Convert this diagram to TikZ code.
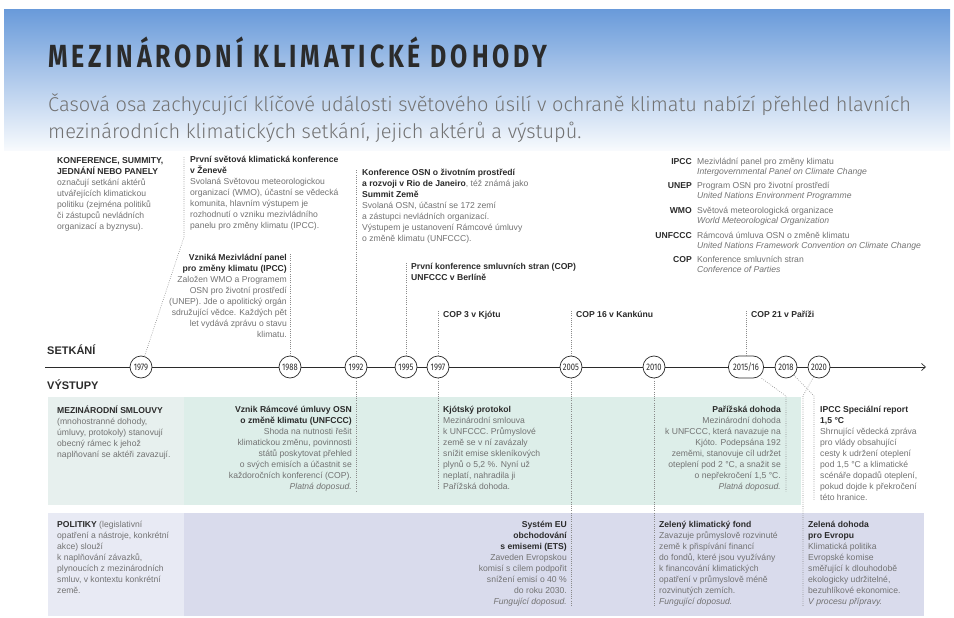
\documentclass[tikz,border=0pt]{standalone}
\usepackage{fontspec}
\setmainfont{Liberation Sans}
\newfontfamily\titlefont{Fira Sans}[FakeStretch=0.78,LetterSpace=12]
\newfontfamily\leadfont{Fira Sans Light}
\newfontfamily\yearfont{Fira Sans}[FakeStretch=0.8]
\usetikzlibrary{arrows.meta}

\definecolor{ink}{HTML}{2B2B2B}
\definecolor{grey}{HTML}{727272}
\definecolor{dots}{HTML}{8A8A8A}
\definecolor{skyblue}{HTML}{6A9BDA}
\definecolor{treatyL}{HTML}{E7F0EE}
\definecolor{treaty}{HTML}{DDEEE9}
\definecolor{policyL}{HTML}{E8EAF4}
\definecolor{policy}{HTML}{D9DBEC}

\newcommand\hd[1]{\textbf{\textcolor{ink}{#1}}}

\begin{document}
\begin{tikzpicture}[x=1pt,y=-1pt,
  txt/.style={inner sep=0pt, anchor=north west, align=left, text=grey, font=\fontsize{8.6}{11}\selectfont},
  txtr/.style={txt, anchor=north east, align=right},
  head/.style={inner sep=0pt, anchor=base west, text=ink, font=\bfseries\fontsize{11}{13}\selectfont},
  year/.style={circle, draw=ink, line width=0.7pt, fill=white, minimum size=22pt, inner sep=0pt, text=ink, font=\yearfont\fontsize{9.5}{10}\selectfont},
  yearwide/.style={year, rectangle, rounded corners=10.5pt, minimum width=35pt},
  link/.style={draw=dots, line width=0.6pt, dash pattern=on 0.7pt off 1.5pt},
  abbr/.style={inner sep=0pt, anchor=north east, text=ink, font=\bfseries\fontsize{8.6}{10}\selectfont},
  abbrtxt/.style={txt, font=\fontsize{8.6}{10}\selectfont}]
	\useasboundingbox (0,0) rectangle (954,618);
	\fill[white] (0,0) rectangle (954,618);
	\shade[top color=skyblue, bottom color=white!95!skyblue] (4,10) rectangle (950,150);
	% bands
	\fill[treatyL] (48,397) rectangle (184,505);
	\fill[treaty] (184,397) rectangle (801,505);
	\fill[policyL] (48,513) rectangle (184,616);
	\fill[policy] (184,513) rectangle (924,616);
	
	% heading
	\node[inner sep=0pt, anchor=base west, text=ink, font=\titlefont\bfseries\fontsize{32}{32}\selectfont] (title) at (48,68) {MEZINÁRODNÍ KLIMATICKÉ DOHODY};
	\node[inner sep=0pt, anchor=base west, text=grey, font=\leadfont\fontsize{20}{27}\selectfont] (lead1) at (48,112) {Časová osa zachycující klíčové události světového úsilí v ochraně klimatu nabízí přehled hlavních};
	\node[inner sep=0pt, anchor=base west, text=grey, font=\leadfont\fontsize{20}{27}\selectfont] (lead2) at (48,139) {mezinárodních klimatických setkání, jejich aktérů a výstupů.};
	
	% meetings
	\node[txt] (legend) at (57,157) {\hd{KONFERENCE, SUMMITY,}\\\hd{JEDNÁNÍ NEBO PANELY}\\označují setkání aktérů\\utvářejících klimatickou\\politiku (zejména politiků\\či zástupců nevládních\\organizací a byznysu).};
	\node[txt] (geneva) at (190,156) {\hd{První světová klimatická konference}\\\hd{v Ženevě}\\Svolaná Světovou meteorologickou\\organizací (WMO), účastní se vědecká\\komunita, hlavním výstupem je\\rozhodnutí o vzniku mezivládního\\panelu pro změny klimatu (IPCC).};
	\node[txtr] (ipcc) at (287,254) {\hd{Vzniká Mezivládní panel}\\\hd{pro změny klimatu (IPCC)}\\Založen WMO a Programem\\OSN pro životní prostředí\\(UNEP). Jde o apolitický orgán\\sdružující vědce. Každých pět\\let vydává zprávu o stavu\\klimatu.};
	\node[txt] (rio) at (362,169) {\hd{Konference OSN o životním prostředí}\\\hd{a rozvoji v Rio de Janeiro}, též známá jako\\\hd{Summit Země}\\Svolaná OSN, účastní se 172 zemí\\a zástupci nevládních organizací.\\Výstupem je ustanovení Rámcové úmluvy\\o změně klimatu (UNFCCC).};
	\node[txt] (berlin) at (411,263) {\hd{První konference smluvních stran (COP)}\\\hd{UNFCCC v Berlíně}};
	\node[txt] (kyotocop) at (443,311) {\hd{COP 3 v Kjótu}};
	\node[txt] (cancun) at (576,311) {\hd{COP 16 v Kankúnu}};
	\node[txt] (pariscop) at (751,311) {\hd{COP 21 v Paříži}};
	
	% abbreviations
	\node[abbr] (a1) at (692,158) {IPCC};
	\node[abbrtxt] (b1) at (697,158) {Mezivládní panel pro změny klimatu\\\textit{Intergovernmental Panel on Climate Change}};
	\node[abbr] (a2) at (692,182) {UNEP};
	\node[abbrtxt] (b2) at (697,182) {Program OSN pro životní prostředí\\\textit{United Nations Environment Programme}};
	\node[abbr] (a3) at (692,207) {WMO};
	\node[abbrtxt] (b3) at (697,207) {Světová meteorologická organizace\\\textit{World Meteorological Organization}};
	\node[abbr] (a4) at (692,232) {UNFCCC};
	\node[abbrtxt] (b4) at (697,232) {Rámcová úmluva OSN o změně klimatu\\\textit{United Nations Framework Convention on Climate Change}};
	\node[abbr] (a5) at (692,256) {COP};
	\node[abbrtxt] (b5) at (697,256) {Konference smluvních stran\\\textit{Conference of Parties}};
	
	% outputs
	\node[txt] (treaties) at (57,406) {\hd{MEZINÁRODNÍ SMLOUVY}\\(mnohostranné dohody,\\úmluvy, protokoly) stanovují\\obecný rámec k jehož\\naplňovaní se aktéři zavazují.};
	\node[txtr] (unfccc) at (352,406) {\hd{Vznik Rámcové úmluvy OSN}\\\hd{o změně klimatu (UNFCCC)}\\Shoda na nutnosti řešit\\klimatickou změnu, povinnosti\\států poskytovat přehled\\o svých emisích a účastnit se\\každoročních konferencí (COP).\\\textit{Platná doposud.}};
	\node[txt] (kyoto) at (443,406) {\hd{Kjótský protokol}\\Mezinárodní smlouva\\k UNFCCC. Průmyslové\\země se v ní zavázaly\\snížit emise skleníkových\\plynů o 5,2 \%. Nyní už\\neplatí, nahradila ji\\Pařížská dohoda.};
	\node[txtr] (paris) at (781,406) {\hd{Pařížská dohoda}\\Mezinárodní dohoda\\k UNFCCC, která navazuje na\\Kjóto. Podepsána 192\\zeměmi, stanovuje cíl udržet\\oteplení pod 2 °C, a snažit se\\o nepřekročení 1,5 °C.\\\textit{Platná doposud.}};
	\node[txt] (sr15) at (820,406) {\hd{IPCC Speciální report}\\\hd{1,5 °C}\\Shrnující vědecká zpráva\\pro vlády obsahující\\cesty k udržení oteplení\\pod 1,5 °C a klimatické\\scénáře dopadů oteplení,\\pokud dojde k překročení\\této hranice.};
	\node[txt] (policies) at (57,521) {\hd{POLITIKY} (legislativní\\opatření a nástroje, konkrétní\\akce) slouží\\k naplňování závazků,\\plynoucích z mezinárodních\\smluv, v kontextu konkrétní\\země.};
	\node[txtr] (ets) at (567,521) {\hd{Systém EU}\\\hd{obchodování}\\\hd{s emisemi (ETS)}\\Zaveden Evropskou\\komisí s cílem podpořit\\snížení emisí o 40 \%\\do roku 2030.\\\textit{Fungující doposud.}};
	\node[txt] (fund) at (659,521) {\hd{Zelený klimatický fond}\\Zavazuje průmyslově rozvinuté\\země k přispívání financí\\do fondů, které jsou využívány\\k financování klimatických\\opatření v průmyslově méně\\rozvinutých zemích.\\\textit{Fungující doposud.}};
	\node[txt] (greendeal) at (808,521) {\hd{Zelená dohoda}\\\hd{pro Evropu}\\Klimatická politika\\Evropské komise\\směřující k dlouhodobě\\ekologicky udržitelné,\\bezuhlíkové ekonomice.\\\textit{V procesu přípravy.}};
	
	% timeline
	\node[head] (setkani) at (47,354) {SETKÁNÍ};
	\node[head] (vystupy) at (47,389) {VÝSTUPY};
	\coordinate (start) at (45,367);
	\coordinate (end) at (926,367);
	\draw[ink, line width=0.7pt, -{Straight Barb[length=4pt,width=7pt]}] (start) -- (end);
	\node[year] (y1979) at (141,367) {1979};
	\node[year] (y1988) at (290,367) {1988};
	\node[year] (y1992) at (356,367) {1992};
	\node[year] (y1995) at (406,367) {1995};
	\node[year] (y1997) at (438,367) {1997};
	\node[year] (y2005) at (571,367) {2005};
	\node[year] (y2010) at (654,367) {2010};
	\node[yearwide] (y2015) at (746,367) {2015/16};
	\node[year] (y2018) at (786,367) {2018};
	\node[year] (y2020) at (819,367) {2020};
	
	% links
	\coordinate (k1979) at (184,237);
	\coordinate (k2015) at (786,396);
	\coordinate (k2018) at (814,396);
	\coordinate (k2020) at (803,396);
	\draw[link] (y1979) -- (k1979) -- (k1979 |- geneva.north);
	\draw[link] (y1988) -- (y1988 |- ipcc.north);
	\draw[link] (y1992) -- (y1992 |- rio.north);
	\draw[link] (y1992) -- (y1992 |- unfccc.south);
	\draw[link] (y1995) -- (y1995 |- berlin.north);
	\draw[link] (y1997) -- (y1997 |- kyotocop.north);
	\draw[link] (y1997) -- (y1997 |- kyoto.south);
	\draw[link] (y2005) -- (y2005 |- cancun.north);
	\draw[link] (y2005) -- (y2005 |- ets.south);
	\draw[link] (y2010) -- (y2010 |- fund.south);
	\draw[link] (y2015) -- (y2015 |- pariscop.north);
	\draw[link] (y2015) -- (k2015) -- (k2015 |- paris.south);
	\draw[link] (y2018) -- (k2018) -- (k2018 |- sr15.south);
	\draw[link] (y2020) -- (k2020) -- (k2020 |- greendeal.south);
\end{tikzpicture}
\end{document}
